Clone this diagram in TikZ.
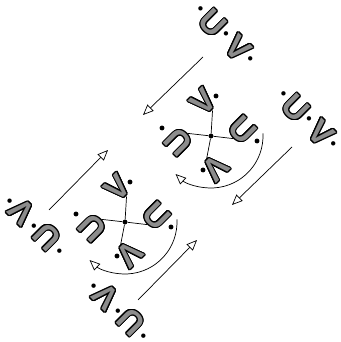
\documentclass[tikz,border=0pt]{standalone}
\usepackage{fontspec}
\usepackage{xcolor}
\usepackage{contour}
\usepackage{tikz}
\usetikzlibrary{arrows.meta}
\newfontfamily\glyphfont{Liberation Sans}
\contourlength{0.9pt}
\contournumber{16}
\newcommand{\gl}[1]{\contour{black}{#1}}
\newcommand{\sepdot}{\raisebox{6.5pt}{\textcolor{black}{\fontsize{13}{13}\selectfont •}}}
\newcommand{\uvchain}{\sepdot\kern4pt\gl{U}\kern2pt\sepdot\kern4pt\gl{V}\kern2pt\sepdot}

\begin{document}
\begin{tikzpicture}[
  x=0.03cm,y=0.03cm,
  glyph/.style={font=\glyphfont\bfseries\fontsize{28}{28}\selectfont,text=black!45,inner sep=0pt},
  bead/.style={circle,fill=black,inner sep=0pt,minimum size=4.2pt},
  link/.style={line width=0.6pt},
  feed/.style={line width=0.6pt,-{Triangle[open,length=9pt,width=7.5pt]}}]
\path[use as bounding box] (0,0) rectangle (340,342);
% free chains
\node[glyph,rotate=-45] (chainA) at (224,307) {\uvchain};
\node[glyph,rotate=-45] (chainB) at (307,222) {\uvchain};
\node[glyph,rotate=135] (chainC) at (36,117) {\uvchain};
\node[glyph,rotate=135] (chainD) at (120,32) {\uvchain};
% upper complex
\node[bead] (hub1) at (211,206) {};
\node[glyph,rotate=45] (v1a) at (204,240) {\gl{V}};
\node[glyph,rotate=-45] (u1a) at (242,212) {\gl{U}};
\node[glyph,rotate=135] (u1b) at (179,200) {\gl{U}};
\node[glyph,rotate=-135] (v1b) at (215,174) {\gl{V}};
\node[bead] (d1a) at (216,246) {};
\node[bead] (d1b) at (257,201) {};
\node[bead] (d1c) at (162,214) {};
\node[bead] (d1d) at (203,172) {};
\draw[link] (hub1) -- (v1a.south);
\draw[link] (hub1) -- (u1a.south);
\draw[link] (hub1) -- (u1b.south);
\draw[link] (hub1) -- (v1b.south);
\coordinate (turn1) at ([shift={(3:52)}]hub1);
\draw[feed] (turn1) arc[start angle=3,end angle=-133,radius=52];
% lower complex
\node[bead] (hub2) at (125,120) {};
\node[glyph,rotate=45] (v2a) at (118,154) {\gl{V}};
\node[glyph,rotate=-45] (u2a) at (156,126) {\gl{U}};
\node[glyph,rotate=135] (u2b) at (93,114) {\gl{U}};
\node[glyph,rotate=-135] (v2b) at (129,88) {\gl{V}};
\node[bead] (d2a) at (130,160) {};
\node[bead] (d2b) at (171,115) {};
\node[bead] (d2c) at (76,128) {};
\node[bead] (d2d) at (117,86) {};
\draw[link] (hub2) -- (v2a.south);
\draw[link] (hub2) -- (u2a.south);
\draw[link] (hub2) -- (u2b.south);
\draw[link] (hub2) -- (v2b.south);
\coordinate (turn2) at ([shift={(3:52)}]hub2);
\draw[feed] (turn2) arc[start angle=3,end angle=-133,radius=52];
% binding and release
\coordinate (in1a) at (203,285);
\coordinate (in1b) at (143,227);
\coordinate (in2a) at (292,195);
\coordinate (in2b) at (232,137);
\coordinate (out1a) at (49,132);
\coordinate (out1b) at (108,192);
\coordinate (out2a) at (138,42);
\coordinate (out2b) at (197,102);
\draw[feed] (in1a) -- (in1b);
\draw[feed] (in2a) -- (in2b);
\draw[feed] (out1a) -- (out1b);
\draw[feed] (out2a) -- (out2b);
\end{tikzpicture}
\end{document}
